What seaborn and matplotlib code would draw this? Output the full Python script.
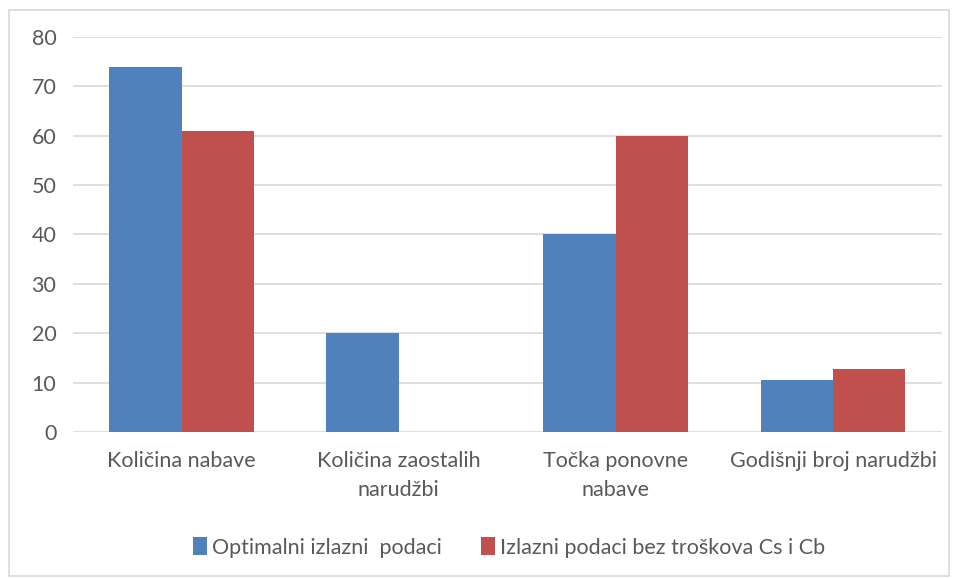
import matplotlib.pyplot as plt
import pandas as pd
import seaborn as sns
from matplotlib.patches import Rectangle

# Data
categories = ['Količina nabave', 'Količina zaostalih\nnarudžbi',
              'Točka ponovne\nnabave', 'Godišnji broj narudžbi']
optimalni = [74, 20, 40, 10.5]
bez_troskova = [61, 0, 60, 12.8]
series = ['Optimalni izlazni  podaci', 'Izlazni podaci bez troškova Cs i Cb']
colors = ['#4F81BD', '#C0504D']

df = pd.DataFrame({
    'kategorija': categories * 2,
    'vrijednost': optimalni + bez_troskova,
    'serija': [series[0]] * 4 + [series[1]] * 4,
})

sns.set_theme(style='white')
plt.rcParams['font.family'] = ['Lato', 'DejaVu Sans']
text_color = '#595959'
grid_color = '#D9D9D9'
fs = 15.5

fig = plt.figure(figsize=(9.55, 5.78), dpi=100)
ax = fig.add_axes([0.0764, 0.2526, 0.9096, 0.6834])

sns.barplot(data=df, x='kategorija', y='vrijednost', hue='serija',
            palette=colors, width=2/3, gap=0, saturation=1,
            edgecolor='none', ax=ax, zorder=3)

ax.set_ylim(0, 80)
ax.set_xlim(-0.5, 3.5)
ax.set_yticks(range(0, 81, 10))
ax.yaxis.grid(True, color=grid_color, linewidth=1.2, zorder=0)
ax.set_axisbelow(True)
for s in ax.spines.values():
    s.set_visible(False)
ax.set_xlabel('')
ax.set_ylabel('')
ax.tick_params(axis='both', length=0, labelsize=fs, colors=text_color)
ax.tick_params(axis='y', pad=12)
ax.tick_params(axis='x', pad=14)
for lbl in ax.get_xticklabels():
    lbl.set_linespacing(1.55)

handles, labels = ax.get_legend_handles_labels()
ax.get_legend().remove()
fig.legend(handles, labels, loc='center', bbox_to_anchor=(0.533, 0.053),
           ncol=2, frameon=False, fontsize=fs, labelcolor=text_color,
           handlelength=0.65, handleheight=0.9, handletextpad=0.25,
           columnspacing=1.8)

# light outer chart frame
fig.patches.append(Rectangle((0.009, 0.004), 0.985, 0.978, transform=fig.transFigure,
                             fill=False, edgecolor=grid_color, linewidth=1.2))

fig.savefig('out.png', dpi=100)
